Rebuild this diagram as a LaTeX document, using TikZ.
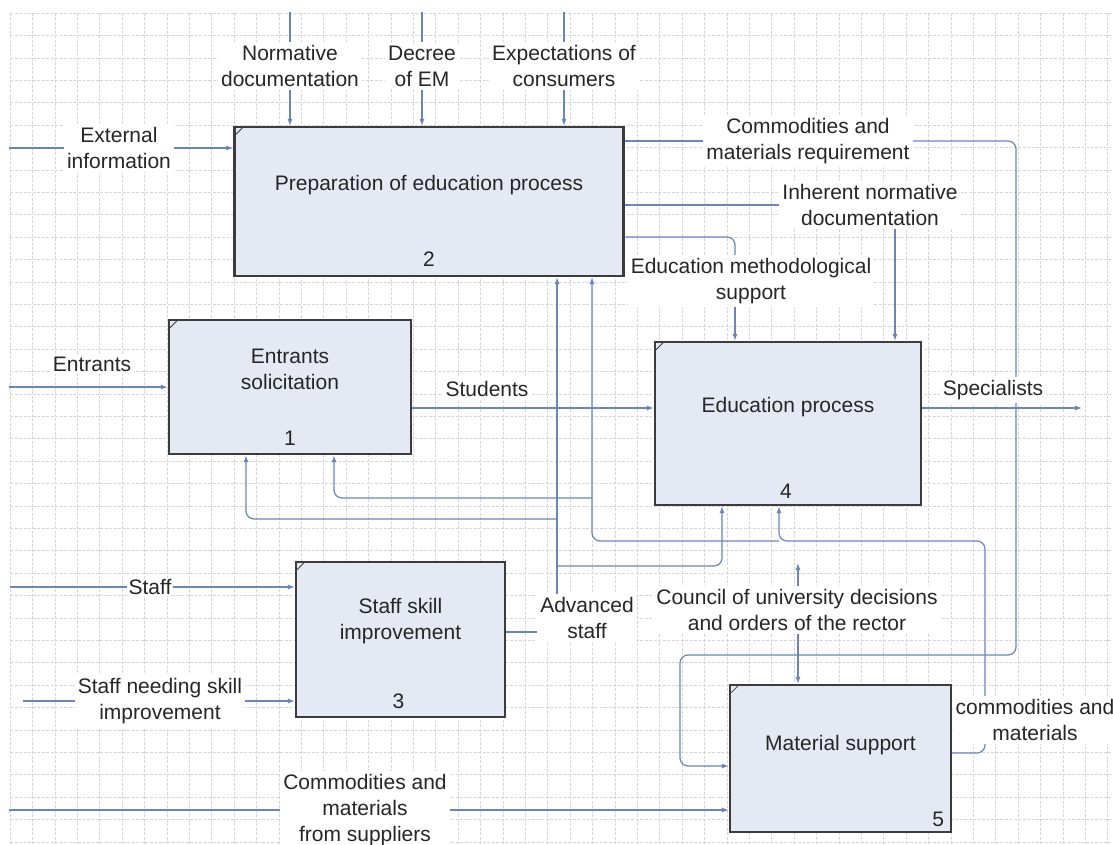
\documentclass[tikz,border=0pt]{standalone}
\usepackage{fontspec}
\setmainfont{Liberation Sans}
\usepackage{tikz}
\usepackage{xcolor}
\usetikzlibrary{calc}
\usetikzlibrary{arrows.meta}

\definecolor{linecol}{HTML}{6A86B8}
\definecolor{boxfill}{HTML}{E5E9F4}
\definecolor{boxline}{HTML}{3C3C3C}
\definecolor{ink}{HTML}{262626}
\definecolor{gridcol}{HTML}{D6D6D6}

\begin{document}
\begin{tikzpicture}[x=1pt, y=-1pt]

\tikzset{
    box/.style = {
    rectangle,
    inner sep=0pt
    },
    txt/.style = {
    font=\fontsize{21}{26}\selectfont,
    text=ink,
    align=center
    }
}

\tikzstyle{activity}=[draw=boxline, line width=2.2pt, fill=boxfill, box]
\tikzstyle{caption}=[txt, fill=white, inner sep=3pt]
\tikzstyle{title}=[txt, inner sep=0pt]
\tikzstyle{wire}=[draw=linecol, line width=1.2pt, rounded corners=8pt]
\tikzstyle{flow}=[wire, -{Latex[length=7pt,width=5pt]}]
\tikzstyle{gridline}=[draw=gridcol, line width=0.5pt, dash pattern=on 3pt off 1.5pt]

\useasboundingbox (0,0) rectangle (1113,845);
\fill[white] (0,0) rectangle (1113,845);

% background grid
\foreach \gx in {0,...,49}{
    \draw[gridline] ({10+22.4*\gx},13) -- ({10+22.4*\gx},845);
}
\foreach \gy in {0,...,37}{
    \draw[gridline] (10,{13+22.4*\gy}) -- (1113,{13+22.4*\gy});
}

% activities
\node (p2) [activity, minimum width=389pt, minimum height=149pt] at (429,201.5) {};
\node (p1) [activity, minimum width=242pt, minimum height=134pt] at (290,387) {};
\node (p4) [activity, minimum width=266pt, minimum height=163pt] at (788,423.5) {};
\node (p3) [activity, minimum width=209pt, minimum height=155pt] at (400.5,639.5) {};
\node (p5) [activity, minimum width=221pt, minimum height=147pt] at (840.5,758.5) {};

\foreach \b in {p1,p2,p3,p4,p5}{
    \draw[boxline, line width=0.8pt] ([shift={(2,9)}]\b.north west) -- ([shift={(9,2)}]\b.north west);
}

\node (t2) [title] at ([shift={(0,-16.5)}]p2.center) {Preparation of education process};
\node (n2) [title] at ([shift={(0,-18)}]p2.south) {2};
\node (t1) [title] at ([shift={(0,-18)}]p1.center) {Entrants\\solicitation};
\node (n1) [title] at ([shift={(0,-17)}]p1.south) {1};
\node (t4) [title] at ([shift={(0,-16.5)}]p4.center) {Education process};
\node (n4) [title] at ([shift={(-2,-15)}]p4.south) {4};
\node (t3) [title] at ([shift={(0,-18)}]p3.center) {Staff skill\\improvement};
\node (n3) [title] at ([shift={(-2,-17)}]p3.south) {3};
\node (t5) [title] at ([shift={(0,-13.5)}]p5.center) {Material support};
\node (n5) [title] at ([shift={(-14,-14)}]p5.south east) {5};

% labels
\node (lNorm) [caption] at (290,66) {Normative\\documentation};
\node (lDecree) [caption] at (422,66) {Decree\\of EM};
\node (lExpect) [caption] at (564,66) {Expectations of\\consumers};
\node (lExt) [caption] at (119,148) {External\\information};
\node (lEntr) [caption] at (92,364) {Entrants};
\node (lStud) [caption] at (487,389) {Students};
\node (lCMR) [caption] at (808,141) {Commodities and\\materials requirement};
\node (lInh) [caption] at (870,205) {Inherent normative\\documentation};
\node (lEMS) [caption] at (751,281) {Education methodological\\support};
\node (lStaff) [caption, inner sep=1pt] at (150,587) {Staff};
\node (lSNS) [caption] at (160,701) {Staff needing skill\\improvement};
\node (lCMS) [caption] at (365,810) {Commodities and\\materials\\from suppliers};
\node (lAdv) [caption] at (587,618) {Advanced\\staff};
\node (lCoun) [caption] at (797,610) {Council of university decisions\\and orders of the rector};

\coordinate (tNorm) at (290,12);
\coordinate (tDecree) at (422,12);
\coordinate (tExpect) at (564,12);
\coordinate (sExt) at (9,148);
\coordinate (sEntr) at (9,387);
\coordinate (sStaff) at (10,587);
\coordinate (sSNS) at (23,701);
\coordinate (sCMS) at (9,810);
\coordinate (eSpec) at (1082,408);
\coordinate (uCoun) at (798,563);

% inputs and controls
\draw[wire] (tNorm) -- (lNorm);
\draw[flow] (lNorm) -- (lNorm |- p2.north);
\draw[wire] (tDecree) -- (lDecree);
\draw[flow] (lDecree) -- (lDecree |- p2.north);
\draw[wire] (tExpect) -- (lExpect);
\draw[flow] (lExpect) -- (lExpect |- p2.north);
\draw[wire] (sExt) -- (lExt);
\draw[flow] (lExt) -- (lExt -| p2.west);
\draw[flow] (sEntr) -- (sEntr -| p1.west);
\draw[wire] (sStaff) -- (lStaff);
\draw[flow] (lStaff) -- (lStaff -| p3.west);
\draw[wire] (sSNS) -- (lSNS);
\draw[flow] (lSNS) -- (lSNS -| p3.west);
\draw[wire] (sCMS) -- (lCMS);
\draw[flow] (lCMS) -- (lCMS -| p5.west);

% outputs of preparation
\draw[wire] (p2.east |- lCMR) -- (lCMR);
\draw[flow] (lCMR) -- (1016,141) -- (1016,655) -- (680,655) -- (680,766) -- (p5.west |- 0,766);
\draw[wire] (p2.east |- lInh) -- (lInh);
\draw[flow] (lInh.south -| 895,0) -- (p4.north -| 895,0);
\draw[wire] (p2.east |- 0,237) -- (735,237) -- (lEMS.north -| 735,0);
\draw[flow] (lEMS.south -| 735,0) -- (p4.north -| 735,0);

% students and specialists
\draw[flow] (p1.east |- 0,408) -- (p4.west |- 0,408);
\draw[flow] (p4.east |- eSpec) -- (eSpec);

% council
\draw[flow] (lCoun.south -| uCoun) -- (p5.north -| uCoun);
\draw[flow] (lCoun.north -| uCoun) -- (uCoun);

% advanced staff
\draw[wire] (p3.east |- 0,632) -- (lAdv.west |- 0,632);
\draw[flow] (lAdv.north -| 557,0) -- (p2.south -| 557,0);
\draw[flow] (557,519) -- (246,519) -- (p1.south -| 246,0);
\draw[flow] (557,566) -- (722,566) -- (p4.south -| 722,0);

% commodities and materials
\draw[flow] (p5.east |- 0,753) -- (985,753) -- (985,541) -- (779,541) -- (p4.south -| 779,0);
\draw[flow] (779,541) -- (592,541) -- (p2.south -| 592,0);
\draw[flow] (592,498) -- (334,498) -- (p1.south -| 334,0);

\node (lSpec) [caption] at (993,390) {Specialists};
\node (lCom) [caption] at (1035,720) {commodities and\\materials};

\end{tikzpicture}
\end{document}
